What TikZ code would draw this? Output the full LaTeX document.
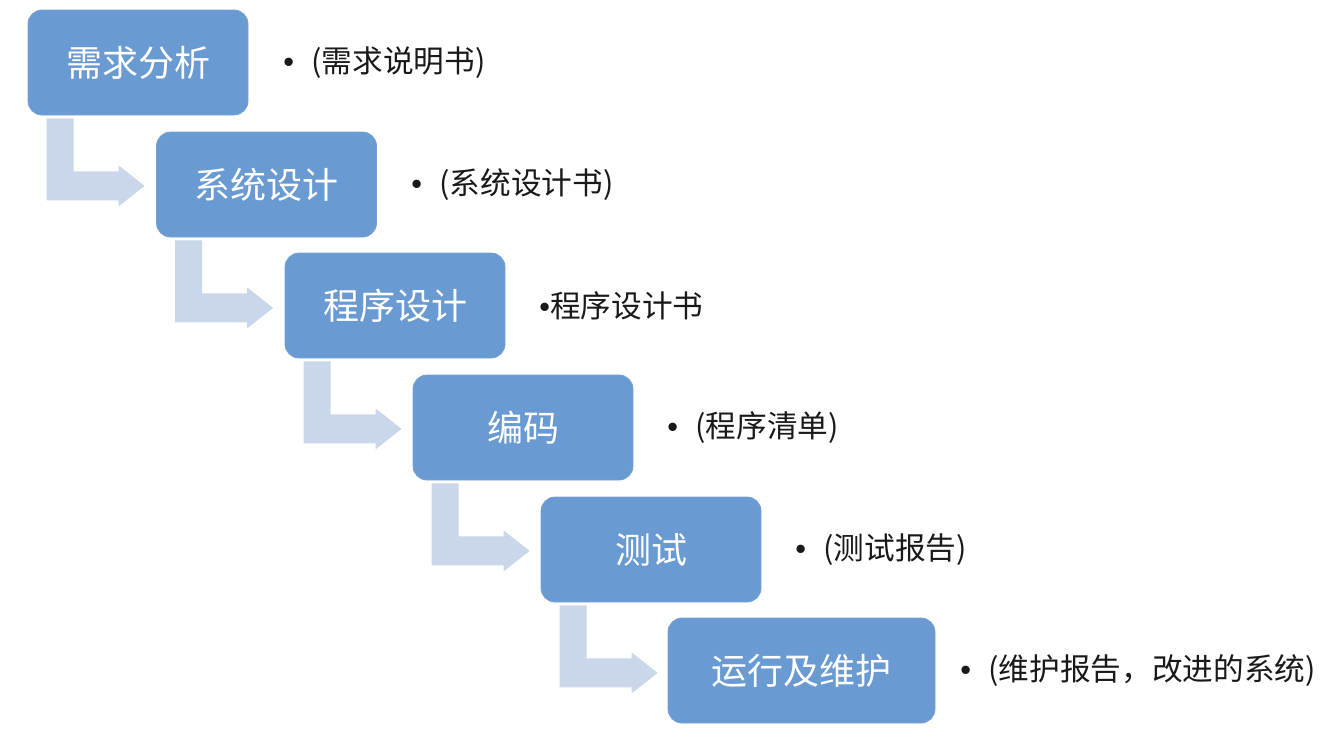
\documentclass[tikz,border=0pt]{standalone}
\usepackage{fontspec}
\setmainfont{Noto Sans CJK SC}
\newfontfamily\bulfont{Liberation Sans}
\usetikzlibrary{calc}
\definecolor{boxblue}{RGB}{106,154,210}
\definecolor{arrowblue}{RGB}{202,214,234}
\definecolor{labelgray}{RGB}{25,25,25}
\newcommand{\bul}{{\bulfont\char"2022}}
\tikzset{
  x=0.75pt, y=-0.75pt,
  stepbox/.style={draw=boxblue!92!white, line width=0.6pt, fill=boxblue, rounded corners=10.5pt,
    minimum width=165pt, minimum height=78.75pt, inner sep=0pt,
    text=white, font=\fontsize{27pt}{30pt}\selectfont},
  outlabel/.style={anchor=west, inner sep=0pt, text=labelgray,
    font=\fontsize{23pt}{26pt}\selectfont},
  bentarrow/.style={fill=arrowblue, draw=none}
}
\begin{document}
\begin{tikzpicture}
\useasboundingbox (0,0) rectangle (1334,746);
\node[stepbox] (b1) at (138,62.5) {需求分析};
\node[stepbox] (b2) at (266.5,184.5) {系统设计};
\node[stepbox] (b3) at (395,305.5) {程序设计};
\node[stepbox] (b4) at (523,427.5) {编码};
\node[stepbox] (b5) at (651,549.5) {测试};
\node[stepbox, minimum width=200.25pt] (b6) at (801.5,670.5) {运行及维护};

\node[outlabel] (l1) at (283,62.5) {\bul\hspace{13pt}(需求说明书)};
\node[outlabel] (l2) at (411,184.5) {\bul\hspace{13pt}(系统设计书)};
\node[outlabel] (l3) at (539,305.5) {\bul 程序设计书};
\node[outlabel] (l4) at (667,427.5) {\bul\hspace{13pt}(程序清单)};
\node[outlabel] (l5) at (795,549.5) {\bul\hspace{13pt}(测试报告)};
\node[outlabel] (l6) at (960,670.5) {\bul\hspace{13pt}(维护报告，改进的系统)};

\foreach \s in {b1,b2,b3,b4,b5}{
  \fill[bentarrow]
    ($(\s.south west)+(19,3)$) -- ($(\s.south west)+(46,3)$) --
    ($(\s.south west)+(46,56)$) -- ($(\s.south west)+(91,56)$) --
    ($(\s.south west)+(91,50)$) -- ($(\s.south west)+(117,70.5)$) --
    ($(\s.south west)+(91,91)$) -- ($(\s.south west)+(91,85)$) --
    ($(\s.south west)+(19,85)$) -- cycle;
}
\end{tikzpicture}
\end{document}
